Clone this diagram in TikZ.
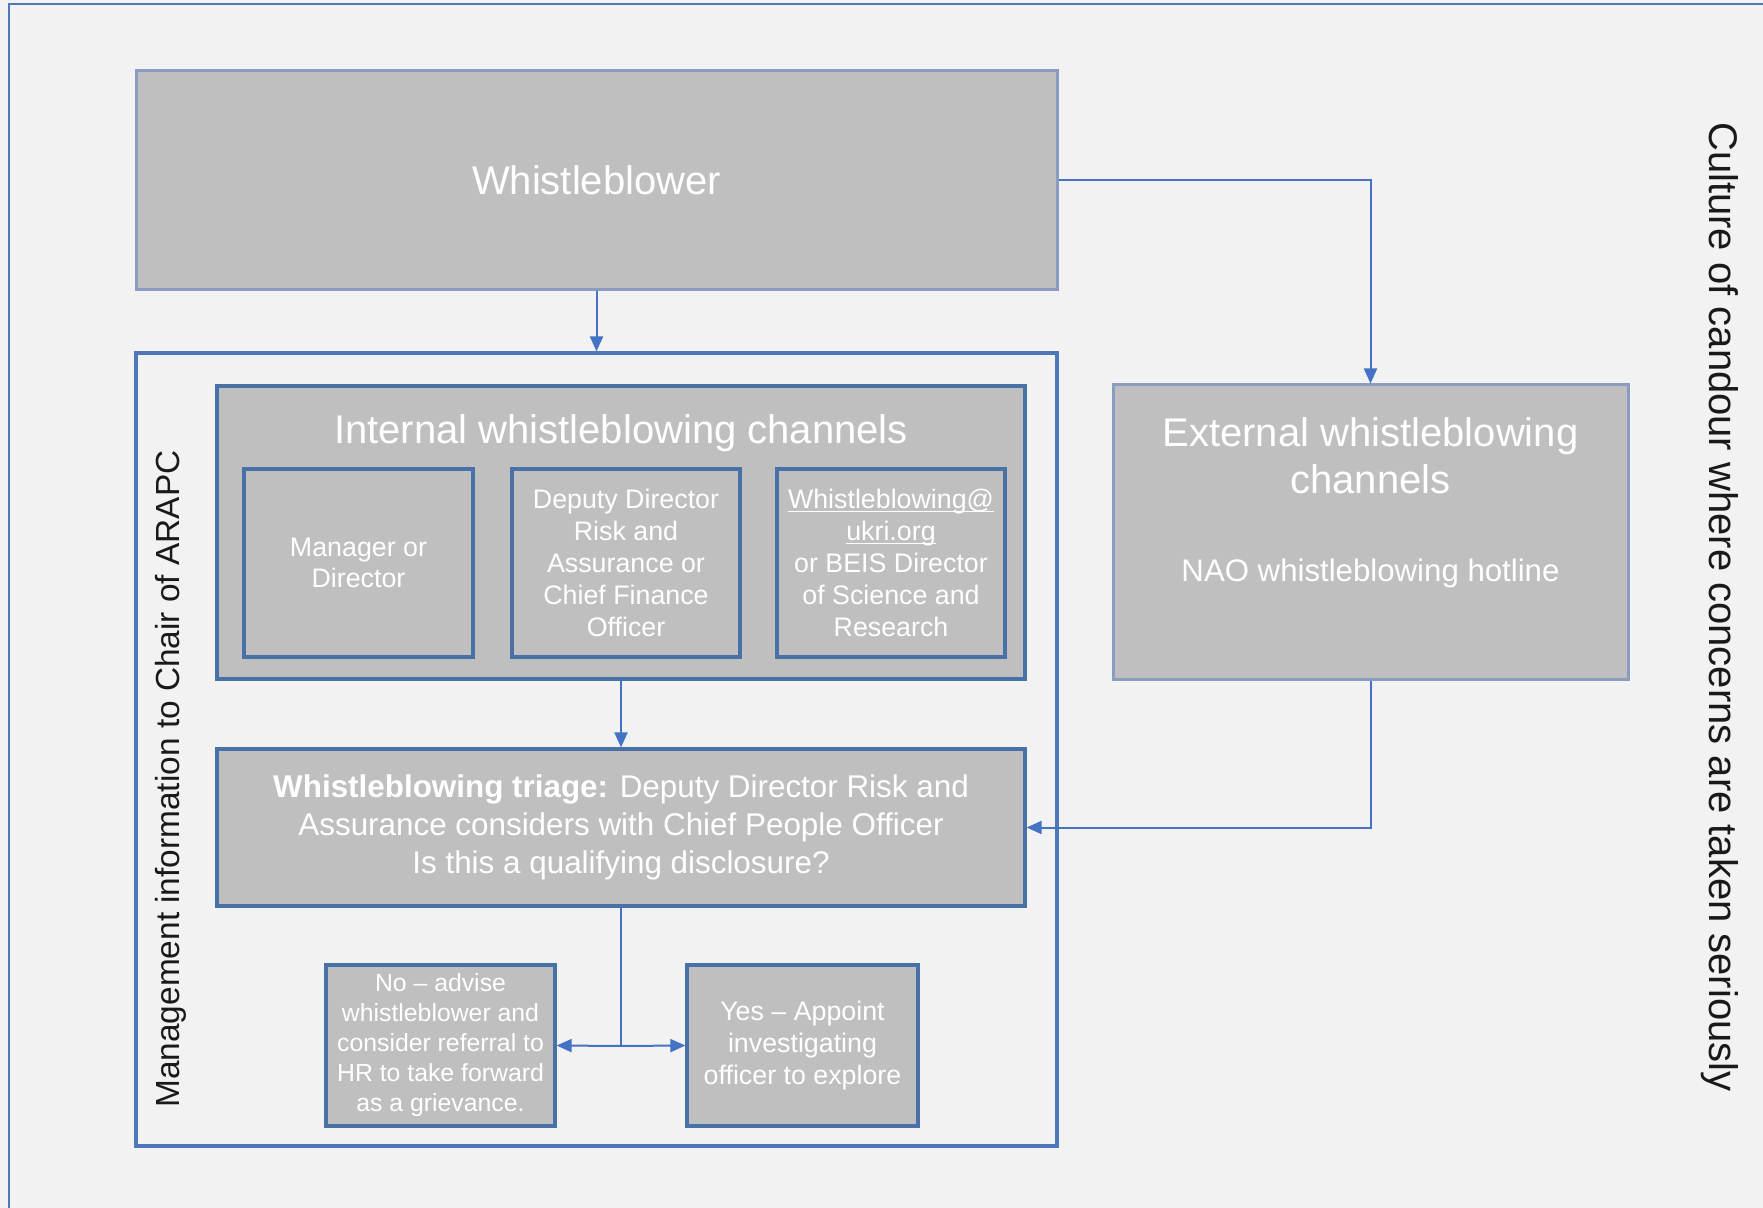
\documentclass[tikz,border=0pt]{standalone}
\usepackage{fontspec}
\setmainfont{Liberation Sans}
\usetikzlibrary{arrows.meta}
\definecolor{bgc}{HTML}{F2F2F2}
\definecolor{boxfill}{HTML}{BFBFBF}
\definecolor{lightedge}{HTML}{8A9DC0}
\definecolor{darkedge}{HTML}{4A70A8}
\definecolor{framec}{HTML}{4F78BA}
\definecolor{arrowc}{HTML}{4472C4}
\newcommand\ulx[1]{\leavevmode\setbox0\hbox{#1}\rlap{\rule[-1.8pt]{\wd0}{0.7pt}}\box0}
\tikzset{
  graybox/.style={draw=lightedge, fill=boxfill, line width=1.5pt, inner sep=0pt, text=white, align=center},
  bluebox/.style={draw=darkedge, fill=boxfill, line width=1.6pt, inner sep=0pt, text=white, align=center},
  container/.style={draw=framec, line width=1.6pt, inner sep=0pt},
  wtext/.style={text=white, align=center, inner sep=0pt},
  conn/.style={draw=arrowc, line width=1pt},
  arr/.style={conn, -{Triangle[length=7.5pt,width=6.5pt]}},
}
\begin{document}
\begin{tikzpicture}[x=0.5pt,y=-0.5pt]
\useasboundingbox (0,0) rectangle (1763,1208);
\fill[bgc] (0,0) rectangle (1763,1208);
\draw[framec, line width=1pt] (1763,4) -- (9,4) -- (9,1208);

% Whistleblower
\node[graybox, minimum width=460.5pt, minimum height=109.5pt, font=\fontsize{20}{24}\selectfont] (wb) at (596.5,180.5) {Whistleblower};

% Container
\node[container, minimum width=460.5pt, minimum height=396.5pt] (cont) at (596.5,749.5) {};
\node[rotate=90, inner sep=0pt, font=\fontsize{16.7}{20}\selectfont, text=black!90] (mgmt) at (171,779) {Management information to Chair of ARAPC};

% Internal channels
\node[bluebox, minimum width=404pt, minimum height=146.5pt] (int) at (621,532.5) {};
\node[wtext, font=\fontsize{20}{24}\selectfont] (intt) at (621,433) {Internal whistleblowing channels};
\node[bluebox, minimum width=114.5pt, minimum height=94pt, font=\fontsize{13.4}{15.75}\selectfont] (mgr) at (358.5,563) {Manager or\\Director};
\node[bluebox, minimum width=114pt, minimum height=94pt, font=\fontsize{13.4}{16}\selectfont] (dd) at (626,563) {Deputy Director\\Risk and\\Assurance or\\Chief Finance\\Officer};
\node[bluebox, minimum width=114pt, minimum height=94pt, font=\fontsize{13.4}{16}\selectfont] (wm) at (891,563) {\ulx{Whistleblowing@}\\\ulx{ukri.org}\\or BEIS Director\\of Science and\\Research};

% Triage
\node[bluebox, minimum width=404pt, minimum height=78.5pt, font=\fontsize{15.7}{19}\selectfont] (tri) at (621,827.5) {\textbf{Whistleblowing triage:} Deputy Director Risk and\\Assurance considers with Chief People Officer\\Is this a qualifying disclosure?};

% Outcomes
\node[bluebox, minimum width=114.5pt, minimum height=80.5pt, font=\fontsize{12.4}{15}\selectfont] (no) at (440.5,1045.5) {No -- advise\\whistleblower and\\consider referral to\\HR to take forward\\as a grievance.};
\node[bluebox, minimum width=115.5pt, minimum height=80.5pt, font=\fontsize{13.4}{16}\selectfont] (yes) at (802.5,1045.5) {Yes -- Appoint\\investigating\\officer to explore};

% External
\node[graybox, minimum width=257.5pt, minimum height=147pt] (ext) at (1370.5,532) {};
\node[wtext, font=\fontsize{20}{23.5}\selectfont] (extt) at (1370.5,456) {External whistleblowing\\channels};
\node[wtext, font=\fontsize{15.6}{19}\selectfont] (nao) at (1370.5,573) {NAO whistleblowing hotline};

% Culture
\node[rotate=-90, inner sep=0pt, font=\fontsize{20}{24}\selectfont, text=black!90] (cult) at (1720,607) {Culture of candour where concerns are taken seriously};

% Connectors
\draw[arr] (wb.south) -- (cont.north);
\draw[arr] (wb.east) -| (ext.north);
\draw[arr] (int.south) -- (tri.north);
\draw[arr] (ext.south) |- (tri.east);
\coordinate (split) at (621,1046);
\draw[conn] (tri.south) -- (split);
\draw[arr] (split) -- (no.east);
\draw[arr] (split) -- (yes.west);
\end{tikzpicture}
\end{document}
